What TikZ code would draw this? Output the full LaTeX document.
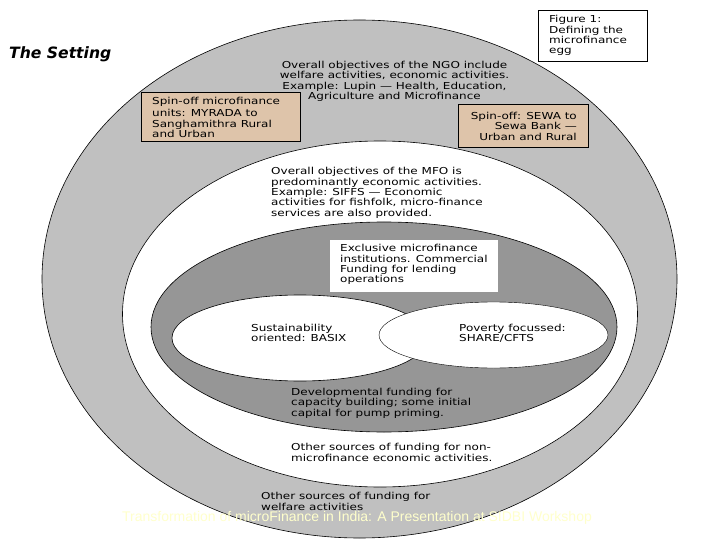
\documentclass[tikz,border=0pt]{standalone}
\usepackage{fontspec}
\usetikzlibrary{shapes.geometric}
\setmainfont{DejaVu Sans}
\newfontfamily\lblfont[FakeStretch=1.25]{DejaVu Sans}
\newfontfamily\footfont{Liberation Sans}
\definecolor{eggouter}{RGB}{192,192,192}
\definecolor{egginner}{RGB}{150,150,150}
\definecolor{tanbox}{RGB}{222,196,170}
\definecolor{footcol}{RGB}{255,255,204}
\tikzset{
  egg/.style={draw=black,line width=0.6pt,ellipse,inner sep=0pt},
  lbl/.style={anchor=north west,align=left,inner sep=0pt,font=\lblfont\fontsize{9.6}{10.3}\selectfont,text=black},
  boxed/.style={draw=black,line width=0.7pt,anchor=north west,inner sep=0pt},
}
\begin{document}
\begin{tikzpicture}[x=1pt,y=-1pt]
\useasboundingbox (0,0) rectangle (720,540);
\fill[white] (0,0) rectangle (720,540);
\node[egg,fill=eggouter,minimum width=635pt,minimum height=518pt] (outer) at (359.5,279) {};
\node[egg,fill=white,minimum width=515pt,minimum height=346pt] (middle) at (380,314) {};
\node[egg,fill=egginner,minimum width=466pt,minimum height=210pt] (inner) at (384,327) {};
\node[egg,fill=white,minimum width=256pt,minimum height=86pt] (sust) at (300,338) {};
\node[egg,fill=white,line width=0.4pt,minimum width=229pt,minimum height=66pt] (pov) at (493.5,335) {};
\node[boxed,fill=tanbox,minimum width=159pt,minimum height=49pt] (spinL) at (141,92) {};
\node[boxed,fill=tanbox,minimum width=130pt,minimum height=43pt] (spinR) at (458,104) {};
\node[boxed,fill=white,minimum width=109pt,minimum height=51pt] (figbox) at (538,10) {};
\node[anchor=north west,fill=white,inner sep=0pt,minimum width=168pt,minimum height=52pt] (exbox) at (330,240) {};
\node[anchor=west,inner sep=0pt,font=\fontsize{15.6}{18}\selectfont\bfseries\itshape] (setting) at (9,54) {The Setting};
\node[lbl] (figtxt) at (549,15.5) {Figure 1:\\Defining the\\microfinance\\egg};
\node[lbl,align=center,anchor=north] (ngo) at (394.5,61) {Overall objectives of the NGO include\\welfare activities, economic activities.\\Example: Lupin — Health, Education,\\Agriculture and Microfinance};
\node[lbl] (sl) at (152,97) {Spin-off microfinance\\[2pt]units: MYRADA to\\Sanghamithra Rural\\and Urban};
\node[lbl,align=right,anchor=north east] (sr) at (577,112) {Spin-off: SEWA to\\Sewa Bank —\\Urban and Rural};
\node[lbl] (mfo) at (271,167.5) {Overall objectives of the MFO is\\predominantly economic activities.\\Example: SIFFS — Economic\\activities for fishfolk, micro-finance\\services are also provided.};
\node[lbl] (ex) at (340,244.5) {Exclusive microfinance\\institutions. Commercial\\Funding for lending\\operations};
\node[lbl] (su) at (251,324) {Sustainability\\oriented: BASIX};
\node[lbl] (po) at (459,324) {Poverty focussed:\\SHARE/CFTS};
\node[lbl] (dev) at (291,388) {Developmental funding for\\capacity building; some initial\\capital for pump priming.};
\node[lbl] (oth) at (291,443.5) {Other sources of funding for non-\\microfinance economic activities.};
\node[lbl] (wel) at (261,492.5) {Other sources of funding for\\welfare activities};
\node[anchor=center,inner sep=0pt,text=footcol,font=\footfont\fontsize{14}{16}\selectfont] (foot) at (357,517.5) {Transformation of microFinance in India: A Presentation at SIDBI Workshop};
\end{tikzpicture}
\end{document}
